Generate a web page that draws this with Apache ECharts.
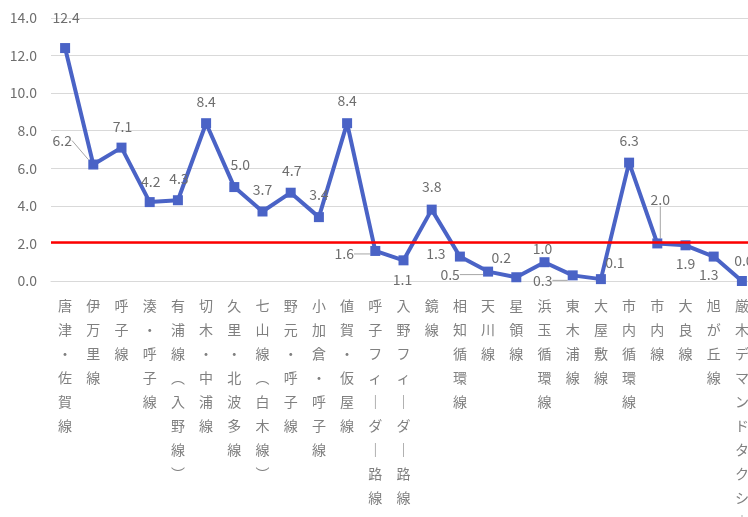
<!DOCTYPE html>
<html>
<head>
<meta charset="utf-8">
<style>
  html, body { margin: 0; padding: 0; background: #fff; }
  #chart { width: 748px; height: 517px; }
</style>
<script src="https://cdn.jsdelivr.net/npm/echarts@6/dist/echarts.min.js"></script>
</head>
<body>
<div id="chart"></div>
<script>
// Route names (x axis)
const routes = [
  '唐津・佐賀線', '伊万里線', '呼子線', '湊・呼子線', '有浦線（入野線）',
  '切木・中浦線', '久里・北波多線', '七山線（白木線）', '野元・呼子線', '小加倉・呼子線',
  '値賀・仮屋線', '呼子フィーダー路線', '入野フィーダー路線', '鏡線', '相知循環線',
  '天川線', '星領線', '浜玉循環線', '東木浦線', '大屋敷線',
  '市内循環線', '市内線', '大良線', '旭が丘線', '厳木デマンドタクシー'
];

// Value per route
const values = [
  12.4, 6.2, 7.1, 4.2, 4.3,
  8.4, 5.0, 3.7, 4.7, 3.4,
  8.4, 1.6, 1.1, 3.8, 1.3,
  0.5, 0.2, 1.0, 0.3, 0.1,
  6.3, 2.0, 1.9, 1.3, 0.0
];

// Reference level drawn as a red line
const referenceLevel = 2.06;

// Value axis ticks
const yMin = 0, yMax = 14, yStep = 2;

// Label placement (offset of label centre from the point, leader line flag)
const labelPlacement = {
  0: [1, -30], 1: [-31, -24, true], 2: [1, -21], 3: [1, -20], 4: [1, -22],
  5: [0, -22], 6: [6, -22], 7: [0, -22], 8: [1, -22], 9: [0, -22],
  10: [0, -23], 11: [-31, 3, true], 12: [-1, 19], 13: [0, -23], 14: [-24, -3],
  15: [-38, 3, true], 16: [-15, -20], 17: [-2, -14], 18: [-30, 5, true], 19: [14, -16],
  20: [0, -22], 21: [3, -44, true], 22: [0, 18], 23: [-5, 18], 24: [2, -20]
};

// Vertical text: one character per line, with vertical forms for brackets and long vowel
const verticalForms = { '（': '︵', '）': '︶', 'ー': '｜' };
function toVertical(s) {
  return Array.from(s).map(c => verticalForms[c] || c).join('\n');
}

const FONT = '"Noto Sans CJK JP", "Noto Sans", sans-serif';
const LINE_COLOR = '#4A63C6';
const TEXT_COLOR = '#6e6e6e';
const CATEGORY_COLOR = '#808080';

const chart = echarts.init(document.getElementById('chart'), null, { renderer: 'canvas' });

chart.setOption({
  animation: false,
  backgroundColor: '#ffffff',
  grid: {
    left: 51, right: -8, top: 18, bottom: 236,
    containLabel: false,
    outerBoundsMode: 'none'
  },
  xAxis: {
    type: 'category',
    data: routes,
    boundaryGap: true,
    axisLine: { show: true, lineStyle: { color: '#d9d9d9', width: 1 } },
    axisTick: { show: false },
    axisLabel: {
      interval: 0,
      margin: 13,
      color: CATEGORY_COLOR,
      fontSize: 14,
      lineHeight: 24,
      fontFamily: FONT,
      formatter: toVertical
    }
  },
  yAxis: {
    type: 'value',
    min: yMin,
    max: yMax,
    interval: yStep,
    axisLine: { show: false },
    axisTick: { show: false },
    splitLine: { lineStyle: { color: '#d9d9d9', width: 1 } },
    axisLabel: {
      margin: 14,
      color: TEXT_COLOR,
      fontSize: 14,
      fontFamily: FONT,
      formatter: v => v.toFixed(1)
    }
  },
  series: [{
    type: 'line',
    data: values.map((v, i) => ({
      value: v,
      labelLine: { show: !!(labelPlacement[i] && labelPlacement[i][2]) }
    })),
    symbol: 'rect',
    symbolSize: 10,
    lineStyle: { color: LINE_COLOR, width: 4 },
    itemStyle: { color: LINE_COLOR },
    label: {
      show: true,
      position: 'inside',
      align: 'center',
      verticalAlign: 'middle',
      color: TEXT_COLOR,
      fontSize: 14,
      fontFamily: FONT,
      formatter: p => p.value.toFixed(1)
    },
    labelLine: {
      show: false,
      smooth: false,
      minTurnAngle: 180,
      length2: 0,
      lineStyle: { color: '#a6a6a6', width: 1 }
    },
    labelLayout: function (params) {
      const o = labelPlacement[params.dataIndex] || [0, -20];
      return { dx: o[0], dy: o[1], hideOverlap: false, moveOverlap: null };
    },
    markLine: {
      silent: true,
      symbol: ['none', 'none'],
      label: { show: false },
      lineStyle: { color: '#ff0000', width: 2.5, type: 'solid' },
      data: [{ yAxis: referenceLevel }]
    },
    z: 2
  }]
});
</script>
</body>
</html>
